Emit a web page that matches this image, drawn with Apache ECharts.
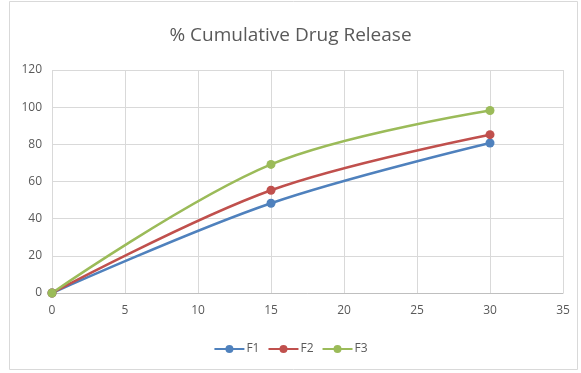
<!DOCTYPE html>
<html>
<head>
<meta charset="utf-8">
<script src="https://cdn.jsdelivr.net/npm/echarts@6/dist/echarts.min.js"></script>
<style>
  html, body { margin: 0; padding: 0; background: #fff; }
  #chart { width: 581px; height: 373px; }
</style>
</head>
<body>
<div id="chart"></div>
<script>
// Time points (x) and cumulative release (%) for each formulation
const times = [0, 15, 30];
const f1 = [0, 48.3, 80.7];
const f2 = [0, 55.3, 85.2];
const f3 = [0, 69.2, 98.2];

const seriesNames = ['F1', 'F2', 'F3'];
const seriesValues = [f1, f2, f3];
const seriesColors = ['#4F81BD', '#C0504D', '#9BBB59'];

const fontFamily = '"Open Sans", "Liberation Sans", sans-serif';

const chart = echarts.init(document.getElementById('chart'), null, { renderer: 'canvas' });

chart.setOption({
  animation: false,
  backgroundColor: '#ffffff',
  graphic: [{
    type: 'rect',
    shape: { x: 9.5, y: 1.5, width: 568, height: 368 },
    style: { fill: 'none', stroke: '#d9d9d9', lineWidth: 1 },
    silent: true
  }],
  title: {
    text: '% Cumulative Drug Release',
    left: 'center',
    top: 21,
    textStyle: { fontFamily, fontSize: 19, fontWeight: 'normal', color: '#595959' }
  },
  legend: {
    bottom: 13,
    left: 'center',
    itemWidth: 30,
    itemHeight: 10,
    itemGap: 8,
    data: seriesNames,
    textStyle: { fontFamily, fontSize: 12, color: '#595959', padding: [0, 0, 0, -3] }
  },
  grid: { left: 52, right: 18, top: 70, bottom: 80 },
  xAxis: {
    type: 'value',
    min: 0, max: 35, interval: 5,
    axisLine: { show: true, lineStyle: { color: '#bfbfbf' } },
    axisTick: { show: false },
    axisLabel: { fontFamily, fontSize: 12, color: '#595959', margin: 12 },
    splitLine: { show: true, lineStyle: { color: '#d9d9d9' } }
  },
  yAxis: {
    type: 'value',
    min: 0, max: 120, interval: 20,
    axisLine: { show: false },
    axisTick: { show: false },
    axisLabel: { fontFamily, fontSize: 12, color: '#595959', margin: 10 },
    splitLine: { show: true, lineStyle: { color: '#d9d9d9' } }
  },
  series: seriesNames.map((name, i) => ({
    name,
    type: 'line',
    smooth: 0.35,
    data: times.map((t, j) => [t, seriesValues[i][j]]),
    symbol: 'circle',
    symbolSize: 9,
    lineStyle: { width: 2.5, color: seriesColors[i] },
    itemStyle: { color: seriesColors[i] }
  }))
});
</script>
</body>
</html>
